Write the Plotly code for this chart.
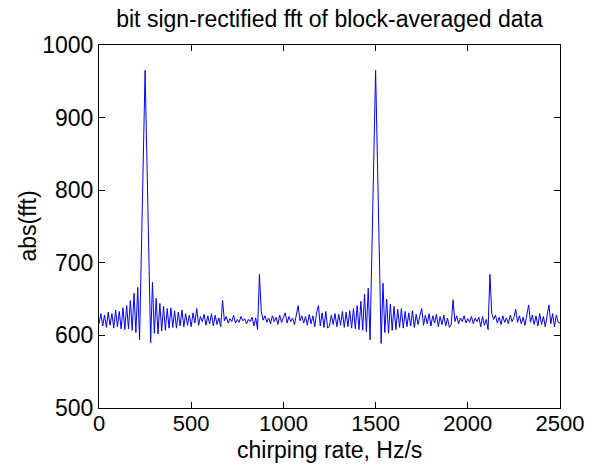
import numpy as np
import plotly.graph_objects as go

# chirping-rate grid (Hz/s), uniform sampling step
rate_step = 10
rate = np.arange(0, 2500 + rate_step, rate_step)

# abs(fft) values
abs_fft = [
    616, 630, 613, 628, 611, 632, 614, 630, 610, 635,
    612, 633, 609, 638, 608, 641, 609, 648, 607, 658,
    604, 666, 594, 719, 842, 965, 840, 715, 590, 673,
    603, 651, 602, 644, 606, 640, 607, 637, 610, 638,
    611, 634, 610, 632, 613, 635, 612, 630, 614, 628,
    612, 631, 617, 637, 614, 626, 619, 629, 614, 627,
    616, 630, 613, 628, 615, 624, 612, 648, 620, 626,
    617, 623, 619, 628, 617, 622, 618, 626, 620, 623,
    616, 622, 619, 625, 613, 624, 608, 684, 633, 621,
    627, 618, 624, 616, 627, 619, 625, 615, 628, 618,
    624, 631, 617, 626, 619, 624, 615, 626, 641, 620,
    627, 617, 626, 614, 629, 616, 627, 612, 631, 641,
    613, 631, 611, 633, 610,
    613, 628, 615, 630, 612, 629, 614, 633, 611, 632,
    612, 634, 610, 637, 609, 641, 608, 647, 607, 657,
    605, 665, 594, 718, 842, 965, 840, 715, 589, 672,
    604, 650, 603, 643, 607, 640, 608, 636, 611, 637,
    610, 633, 612, 631, 613, 634, 611, 629, 615, 627,
    637, 614, 628, 616, 630, 613, 627, 617, 629, 612,
    626, 615, 628, 613, 624, 611, 615, 649, 619, 627,
    616, 624, 619, 627, 617, 623, 618, 626, 616, 624,
    619, 625, 612, 626, 614, 622, 608, 684, 630, 622,
    628, 617, 625, 615, 627, 618, 624, 616, 628, 619,
    625, 636, 618, 627, 616, 625, 614, 628, 642, 618,
    628, 615, 627, 613, 630, 615, 626, 612, 629, 642,
    616, 630, 612, 628, 618, 617,
]

x_ticks = [0, 500, 1000, 1500, 2000, 2500]
y_ticks = [500, 600, 700, 800, 900, 1000]

FONT = "Liberation Sans, Arial, Helvetica, sans-serif"
W, H = 589, 465
M = dict(l=99, r=29, t=45, b=57)

fig = go.Figure(
    go.Scatter(
        x=rate,
        y=abs_fft,
        mode="lines",
        line=dict(color="#0000ff", width=1),
        hoverinfo="skip",
    )
)

fig.update_layout(
    width=W,
    height=H,
    margin=dict(**M, autoexpand=False),
    paper_bgcolor="white",
    plot_bgcolor="white",
    showlegend=False,
    font=dict(family=FONT, size=23, color="black"),
    title=dict(
        text="bit sign-rectified fft of block-averaged data",
        x=0.5,
        xref="paper",
        xanchor="center",
        y=1 - 19 / H,
        yref="container",
        yanchor="middle",
        font=dict(family=FONT, size=23, color="black"),
    ),
)

axis_common = dict(
    ticks="inside",
    ticklen=6,
    tickwidth=1,
    tickcolor="black",
    showline=True,
    linecolor="black",
    linewidth=1,
    mirror="ticks",
    showgrid=False,
    zeroline=False,
    automargin=False,
)

fig.update_xaxes(
    range=[0, 2500],
    tickvals=x_ticks,
    ticktext=[str(v) for v in x_ticks],
    ticklabelstandoff=-4,
    tickfont=dict(family=FONT, size=22, color="black"),
    **axis_common,
)
fig.update_yaxes(
    range=[500, 1000],
    tickvals=y_ticks,
    ticktext=[str(v) for v in y_ticks],
    tickfont=dict(family=FONT, size=23, color="black"),
    **axis_common,
)

plot_h = H - M["t"] - M["b"]
plot_w = W - M["l"] - M["r"]
# axis titles as annotations for precise placement
fig.add_annotation(
    text="chirping rate, Hz/s",
    xref="paper", yref="paper",
    x=0.5, y=-(450 - (H - M["b"])) / plot_h,
    xanchor="center", yanchor="middle",
    showarrow=False,
    font=dict(family=FONT, size=23, color="black"),
)
fig.add_annotation(
    text="abs(fft)",
    xref="paper", yref="paper",
    x=-(M["l"] - 27) / plot_w, y=0.5,
    xanchor="center", yanchor="middle",
    textangle=-90,
    showarrow=False,
    font=dict(family=FONT, size=23, color="black"),
)

fig.write_html("out.html")
